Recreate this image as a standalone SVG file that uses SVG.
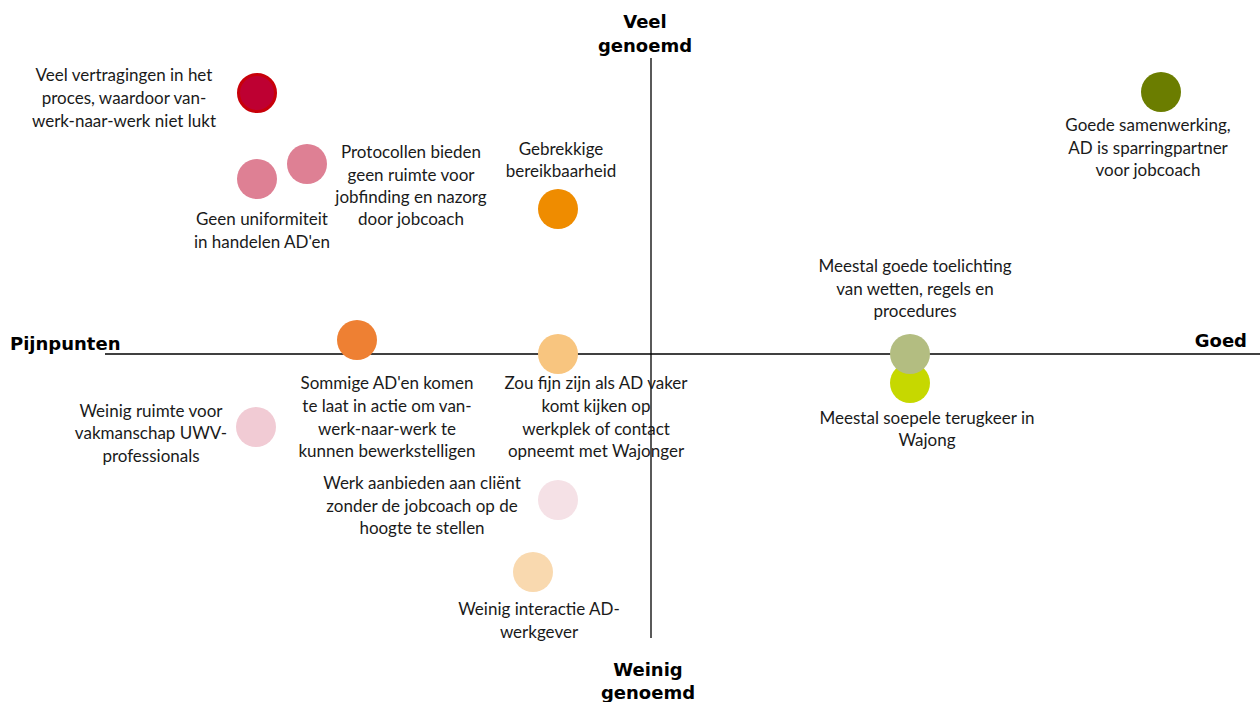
<svg xmlns="http://www.w3.org/2000/svg" width="1260" height="702" viewBox="0 0 1260 702">
<style>
.t{font-family:Lato,"Open Sans","Liberation Sans",sans-serif;font-size:17px;fill:#1a1a1a;text-anchor:middle}
.h{font-family:"DejaVu Sans",Verdana,sans-serif;font-weight:bold;font-size:18px;fill:#000}
.ax{stroke:#000;stroke-width:1.3;fill:none}
</style>
<rect width="1260" height="702" fill="#fff"/>
<g id="axes">
<line class="ax" x1="105" y1="354" x2="1260" y2="354"/>
<line class="ax" x1="651" y1="58" x2="651" y2="638"/>
</g>
<g id="labels">
<text class="h" x="645" y="28" text-anchor="middle">Veel</text>
<text class="h" x="645" y="52" text-anchor="middle">genoemd</text>
<text class="h" x="648" y="676" text-anchor="middle">Weinig</text>
<text class="h" x="648" y="699" text-anchor="middle">genoemd</text>
<text class="h" x="10" y="350">Pijnpunten</text>
<text class="h" x="1247" y="347" text-anchor="end">Goed</text>
</g>
<g id="n1"><circle cx="257" cy="93" r="18.5" fill="#BE0032" stroke="#C8000A" stroke-width="3"/>
<text class="t" x="124"><tspan x="124" y="81">Veel vertragingen in het</tspan><tspan x="124" y="104">proces, waardoor van-</tspan><tspan x="124" y="127">werk-naar-werk niet lukt</tspan></text></g>
<g id="n2"><circle cx="307" cy="164" r="20" fill="#DE8094"/>
<text class="t"><tspan x="411" y="158">Protocollen bieden</tspan><tspan x="411" y="181">geen ruimte voor</tspan><tspan x="411" y="203">jobfinding en nazorg</tspan><tspan x="411" y="225">door jobcoach</tspan></text></g>
<g id="n3"><circle cx="257" cy="179" r="20" fill="#DE8094"/>
<text class="t"><tspan x="262" y="225">Geen uniformiteit</tspan><tspan x="262" y="248">in handelen AD'en</tspan></text></g>
<g id="n4"><circle cx="558" cy="209" r="20" fill="#EF8C00"/>
<text class="t"><tspan x="561" y="155">Gebrekkige</tspan><tspan x="561" y="177">bereikbaarheid</tspan></text></g>
<g id="n5"><circle cx="1161" cy="92" r="20" fill="#6B7D00"/>
<text class="t"><tspan x="1148" y="131">Goede samenwerking,</tspan><tspan x="1148" y="154">AD is sparringpartner</tspan><tspan x="1148" y="176">voor jobcoach</tspan></text></g>
<g id="n6"><circle cx="910" cy="383" r="20" fill="#C6D800"/>
<text class="t"><tspan x="927" y="424">Meestal soepele terugkeer in</tspan><tspan x="927" y="446">Wajong</tspan></text></g>
<g id="n7"><circle cx="910" cy="354" r="20" fill="#B3BD81"/>
<text class="t"><tspan x="915" y="272">Meestal goede toelichting</tspan><tspan x="915" y="295">van wetten, regels en</tspan><tspan x="915" y="317">procedures</tspan></text></g>
<g id="n8"><circle cx="357" cy="340" r="20" fill="#EE8033"/>
<text class="t"><tspan x="387" y="389">Sommige AD'en komen</tspan><tspan x="387" y="412">te laat in actie om van-</tspan><tspan x="387" y="435">werk-naar-werk te</tspan><tspan x="387" y="457">kunnen bewerkstelligen</tspan></text></g>
<g id="n9"><circle cx="558" cy="354" r="20" fill="#F8C57F"/>
<text class="t"><tspan x="596" y="389">Zou fijn zijn als AD vaker</tspan><tspan x="596" y="412">komt kijken op</tspan><tspan x="596" y="435">werkplek of contact</tspan><tspan x="596" y="457">opneemt met Wajonger</tspan></text></g>
<g id="n10"><circle cx="256" cy="427" r="20" fill="#F1CBD4"/>
<text class="t"><tspan x="151" y="417">Weinig ruimte voor</tspan><tspan x="151" y="439">vakmanschap UWV-</tspan><tspan x="151" y="462">professionals</tspan></text></g>
<g id="n11"><circle cx="558" cy="500" r="20" fill="#F5E1E6"/>
<text class="t"><tspan x="422" y="489">Werk aanbieden aan cliënt</tspan><tspan x="422" y="512">zonder de jobcoach op de</tspan><tspan x="422" y="534">hoogte te stellen</tspan></text></g>
<g id="n12"><circle cx="533" cy="572" r="20" fill="#F9D9AF"/>
<text class="t"><tspan x="539" y="615">Weinig interactie AD-</tspan><tspan x="539" y="638">werkgever</tspan></text></g>
</svg>
